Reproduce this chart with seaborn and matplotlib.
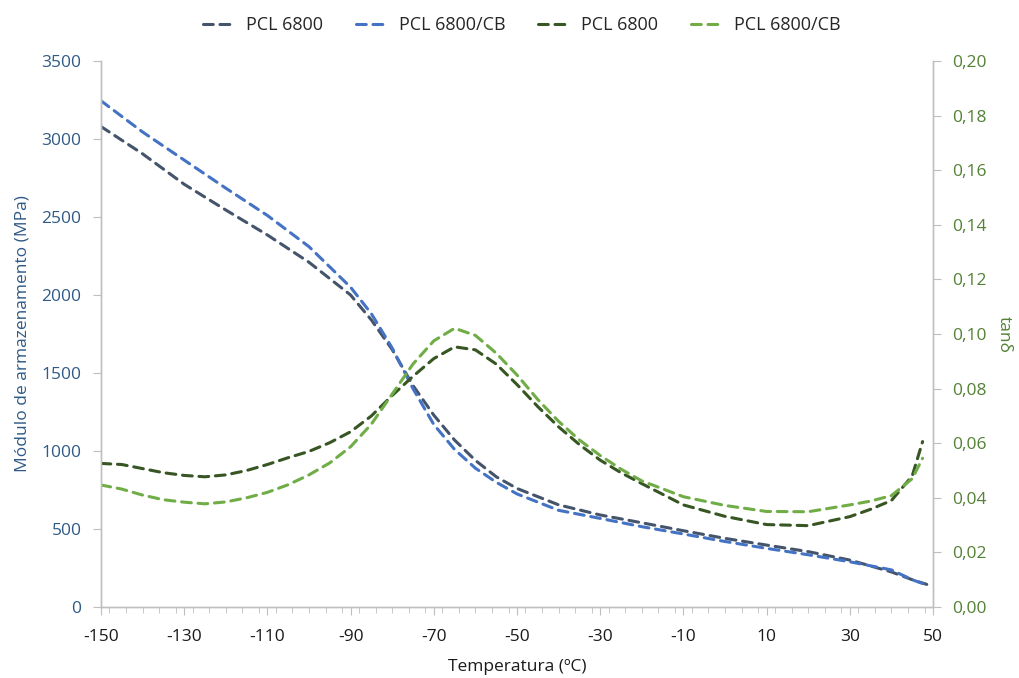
import numpy as np
import pandas as pd
import matplotlib
matplotlib.use("Agg")
import matplotlib.pyplot as plt
from matplotlib.ticker import MultipleLocator, FuncFormatter
import seaborn as sns

# Storage modulus (MPa) versus temperature (ºC)
temp_mod = [-150, -140, -130, -120, -110, -100, -90, -85, -80, -75, -70, -65, -60,
            -55, -50, -40, -30, -20, -10, 0, 10, 20, 30, 40, 45, 48.5]
mod_pcl = [3080, 2905, 2710, 2545, 2385, 2210, 2000, 1840, 1650, 1420, 1230, 1070, 940,
           835, 760, 655, 590, 540, 489, 440, 397, 355, 301, 225, 175, 145]
mod_pcl_cb = [3245, 3045, 2865, 2685, 2510, 2310, 2050, 1880, 1660, 1400, 1170, 1010, 890,
              800, 725, 620, 568, 515, 468, 420, 376, 335, 290, 238, 175, 141]

# Loss factor tan delta versus temperature (ºC)
temp_tan = [-150, -145, -140, -135, -130, -125, -120, -115, -110, -105, -100, -95, -90,
            -85, -80, -75, -70, -65, -60, -55, -50, -45, -40, -35, -30, -25, -20,
            -10, 0, 10, 20, 30, 35, 40, 45, 47.5]
tan_pcl = [0.0526, 0.0522, 0.0507, 0.0492, 0.0482, 0.0477, 0.0484, 0.0500, 0.0522, 0.0547,
           0.0570, 0.0602, 0.0642, 0.0700, 0.0775, 0.0845, 0.0910, 0.0953, 0.0942, 0.0890,
           0.0815, 0.0734, 0.0660, 0.0595, 0.0538, 0.0492, 0.0452, 0.0374, 0.0332, 0.0302,
           0.0298, 0.0331, 0.0358, 0.0390, 0.0480, 0.0606]
tan_pcl_cb = [0.0447, 0.0432, 0.0410, 0.0393, 0.0384, 0.0378, 0.0385, 0.0400, 0.0420, 0.0448,
              0.0484, 0.0528, 0.0587, 0.0670, 0.0780, 0.0890, 0.0975, 0.1021, 0.0995, 0.0930,
              0.0850, 0.0760, 0.0680, 0.0612, 0.0555, 0.0505, 0.0462, 0.0404, 0.0372, 0.0350,
              0.0349, 0.0374, 0.0388, 0.0408, 0.0470, 0.0545]

labels = ["PCL 6800", "PCL 6800/CB"]
x_ticks = list(range(-150, 51, 20))

c_mod = ["#44546A", "#4472C4"]
c_tan = ["#375623", "#70AD47"]
left_col = "#2F5A86"
right_col = "#538135"
spine_col = "#BFBFBF"

mod_df = pd.DataFrame({"T": temp_mod * 2,
                       "E": mod_pcl + mod_pcl_cb,
                       "s": [labels[0]] * len(temp_mod) + [labels[1]] * len(temp_mod)})
tan_df = pd.DataFrame({"T": temp_tan * 2,
                       "tan": tan_pcl + tan_pcl_cb,
                       "s": [labels[0]] * len(temp_tan) + [labels[1]] * len(temp_tan)})

sns.set_style("white")
plt.rcParams["font.family"] = ["Open Sans", "DejaVu Sans"]
plt.rcParams["axes.unicode_minus"] = False

fig = plt.figure(figsize=(10.19, 6.78), dpi=100)
ax = fig.add_axes([0.0991, 0.1047, 0.8165, 0.8053])
ax2 = ax.twinx()

dash = (3.2, 2.2)
sns.lineplot(data=mod_df, x="T", y="E", hue="s", palette=c_mod, ax=ax,
             lw=2.2, legend=False, sort=False)
sns.lineplot(data=tan_df, x="T", y="tan", hue="s", palette=c_tan, ax=ax2,
             lw=2.2, legend=False, sort=False)
for line in ax.get_lines() + ax2.get_lines():
    line.set_dashes(dash)
    line.set_dash_capstyle("round")

ax.set_xlim(-150, 50)
ax.set_ylim(0, 3500)
ax2.set_ylim(0, 0.20)
ax.set_xticks(x_ticks)
ax.xaxis.set_minor_locator(MultipleLocator(4))
ax.yaxis.set_major_locator(MultipleLocator(500))
ax2.yaxis.set_major_locator(MultipleLocator(0.02))
ax2.yaxis.set_major_formatter(FuncFormatter(lambda v, p: f"{v:.2f}".replace(".", ",")))

for a in (ax, ax2):
    a.spines["top"].set_visible(False)
    for side in ("left", "right", "bottom"):
        a.spines[side].set_color(spine_col)
        a.spines[side].set_linewidth(1.0)

ax.tick_params(axis="x", which="major", direction="out", length=6, color=spine_col,
               labelsize=12.5, labelcolor="#1A1A1A", pad=10, bottom=True)
ax.tick_params(axis="x", which="minor", direction="out", length=4, color=spine_col, bottom=True)
ax.tick_params(axis="y", direction="out", length=6, color=spine_col,
               labelsize=12.5, labelcolor=left_col, pad=8, left=True)
ax2.tick_params(axis="y", direction="out", length=6, color=spine_col,
                labelsize=12.5, labelcolor=right_col, pad=8, right=True)

ax.set_xlabel("Temperatura (ºC)", fontsize=12.5, color="#1A1A1A", labelpad=10)
ax.set_ylabel("Módulo de armazenamento (MPa)", fontsize=12.5, color=left_col, labelpad=8)
ax2.set_ylabel("tanδ", fontsize=12.5, color=right_col, rotation=270, labelpad=18)

handles = ax.get_lines()[:2] + ax2.get_lines()[:2]
fig.legend(handles, labels * 2, loc="upper center", bbox_to_anchor=(0.512, 1.0),
           ncol=4, frameon=False, fontsize=13, handlelength=1.7, columnspacing=1.8,
           handletextpad=0.7)

fig.savefig("out.png", dpi=100, facecolor="white")
